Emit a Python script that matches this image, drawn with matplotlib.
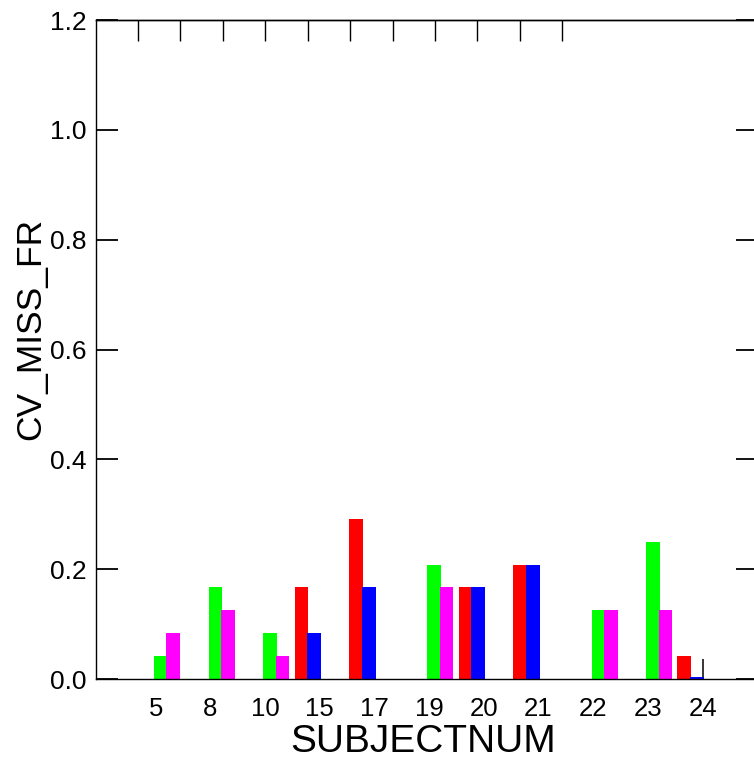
import numpy as np
import matplotlib.pyplot as plt

plt.rcParams['font.family'] = ['Liberation Sans', 'DejaVu Sans']

# Dados (valores em múltiplos de 1/24)
subjects = ['5', '8', '10', '15', '17', '19', '20', '21', '22', '23', '24']
green = [1/24, 4/24, 2/24, 0, 0, 5/24, 0, 0, 3/24, 6/24, 0]
magenta = [2/24, 3/24, 1/24, 0, 0, 4/24, 0, 0, 3/24, 3/24, 0]
red = [0, 0, 4/24, 7/24, 0, 4/24, 5/24, 0, 0, 1/24, 0]
blue = [0, 0, 2/24, 4/24, 0, 4/24, 5/24, 0, 0, 0.003, 0]
yticks = [0.0, 0.2, 0.4, 0.6, 0.8, 1.0, 1.2]

x = np.arange(len(subjects))

fig = plt.figure(figsize=(7.54, 7.62), dpi=100)
ax = fig.add_axes([0.1273, 0.1089, 0.8786, 0.8648])

series = [(green, -0.03, 0.25, '#00ff00'), (magenta, 0.195, 0.25, '#ff00ff'),
          (red, 0.54, 0.25, '#ff0000'), (blue, 0.765, 0.265, '#0000ff')]
for vals, off, w, col in series:
    ax.bar(x + off, vals, width=w, align='edge', color=col, linewidth=0, zorder=2)

ax.set_xlim(-1.09, 11.02)
ax.set_ylim(0, 1.2)
ax.set_xticks(x)
ax.set_xticklabels(subjects, fontsize=18.5)
ax.set_yticks(yticks)
ax.set_yticklabels([f'{v:.1f}' for v in yticks], fontsize=19)
ax.set_axisbelow(True)
# comprimentos em pontos (100 dpi -> 1 pt = 1.39 px)
ax.tick_params(axis='x', direction='in', length=14.4, width=1.1, pad=13, color='black')
ax.tick_params(axis='y', direction='in', length=15.8, width=1.3, pad=7, right=True)

# marcas superiores (escala própria do gráfico original)
top = ax.secondary_xaxis('top')
top.set_xticks(np.arange(11) * 0.776 - 0.324)
top.tick_params(direction='in', length=15.1, width=1.0, labeltop=False)
top.spines['top'].set_linewidth(1.0)

for s in ax.spines.values():
    s.set_linewidth(1.0)

fig.text(423.5 / 754, 0.002, 'SUBJECTNUM', fontsize=28,
         ha='center', va='bottom')
fig.text(31 / 754, 1 - 329 / 762, 'CV_MISS_FR', fontsize=25.5,
         rotation=90, ha='center', va='center')

fig.savefig('out.png', dpi=100)
